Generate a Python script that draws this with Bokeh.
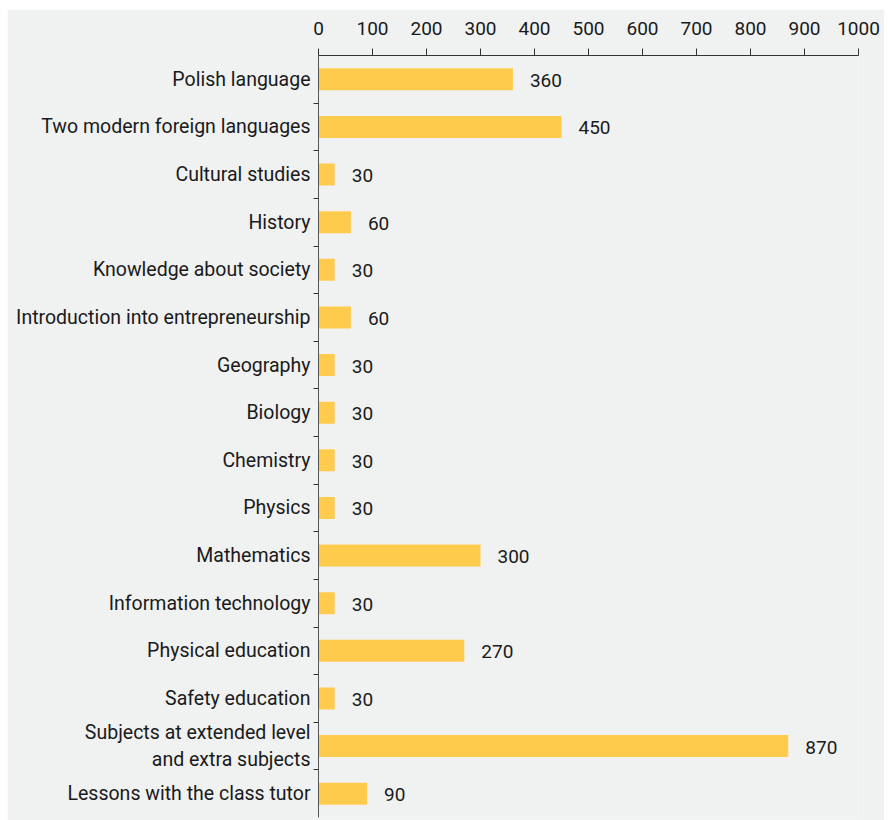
from bokeh.plotting import figure
from bokeh.models import Range1d, FixedTicker, LinearAxis, CustomJSTickFormatter, ColumnDataSource
from bokeh.core.properties import value
from bokeh.embed import file_html
from bokeh.resources import INLINE

categories = [
    "Polish language",
    "Two modern foreign languages",
    "Cultural studies",
    "History",
    "Knowledge about society",
    "Introduction into entrepreneurship",
    "Geography",
    "Biology",
    "Chemistry",
    "Physics",
    "Mathematics",
    "Information technology",
    "Physical education",
    "Safety education",
    "Subjects at extended level\nand extra subjects",
    "Lessons with the class tutor",
]
hours = [360, 450, 30, 60, 30, 60, 30, 30, 30, 30, 300, 30, 270, 30, 870, 90]
x_ticks = [0, 100, 200, 300, 400, 500, 600, 700, 800, 900, 1000]

FONT = "Roboto"
TEXT = "#1a1a1a"
BG = "#f0f1f1"
BAR = "#ffcb4c"

n = len(categories)
centers = [i + 0.5 for i in range(n)]
source = ColumnDataSource(dict(y=centers, v=hours, lab=[str(h) for h in hours]))

p = figure(
    width=877, height=811,
    x_range=Range1d(0, 1000), y_range=Range1d(n, 0),
    x_axis_location="above", y_axis_type=None,
    output_backend="svg", toolbar_location=None,
    min_border_left=311, min_border_right=26, min_border_top=46, min_border_bottom=3,
)
p.margin = (9, 0, 0, 7)
p.background_fill_color = BG
p.border_fill_color = BG
p.outline_line_color = None
p.grid.visible = False

p.hbar(y="y", right="v", left=0, height=0.46, source=source, color=BAR, line_color=None)
p.text(x="v", y="y", text="lab", source=source, x_offset=17, y_offset=1,
       text_baseline="middle", text_align="left", text_font=value(FONT),
       text_font_size="19px", text_color=TEXT)

xa = p.xaxis[0]
xa.ticker = FixedTicker(ticks=x_ticks)
xa.axis_line_color = "#333333"
xa.major_tick_line_color = "#333333"
xa.major_tick_out = 7
xa.major_tick_in = 0
xa.minor_tick_line_color = None
xa.major_label_standoff = 14
xa.major_label_text_font = FONT
xa.major_label_text_font_size = "19px"
xa.major_label_text_color = TEXT

ya = LinearAxis(
    ticker=FixedTicker(ticks=centers, minor_ticks=[float(i) for i in range(1, n)]),
    formatter=CustomJSTickFormatter(args=dict(labels=categories),
                                    code="return labels[Math.round(tick - 0.5)];"),
)
ya.axis_line_color = "#555555"
ya.major_tick_line_color = None
ya.major_tick_out = 0
ya.major_tick_in = 0
ya.minor_tick_line_color = "#333333"
ya.minor_tick_out = 5
ya.minor_tick_in = 0
ya.major_label_standoff = 3
ya.major_label_text_font = FONT
ya.major_label_text_font_size = "19.5px"
ya.major_label_text_color = TEXT
p.add_layout(ya, "left")

open("out.html", "w").write(file_html(p, INLINE))
